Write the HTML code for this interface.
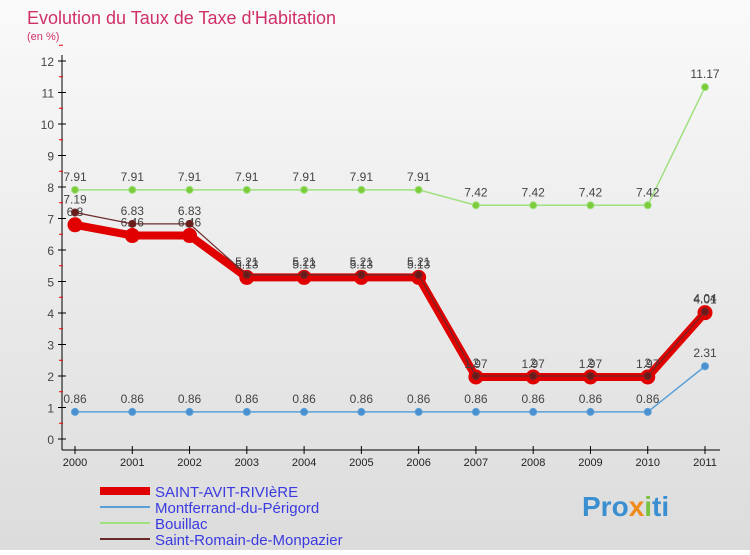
<!DOCTYPE html>
<html><head><meta charset="utf-8"><style>
body{margin:0;width:750px;height:550px;overflow:hidden;font-family:"Liberation Sans",sans-serif}
svg text{font-family:"Liberation Sans",sans-serif}
</style></head><body>
<svg width="750" height="550" xmlns="http://www.w3.org/2000/svg">
<defs><linearGradient id="bg" x1="0" y1="0" x2="0" y2="1"><stop offset="0" stop-color="#fafafa"/><stop offset="1" stop-color="#dcdcdc"/></linearGradient></defs>
<rect width="750" height="550" fill="url(#bg)"/>
<text x="27" y="24" font-size="18" fill="#d0306a">Evolution du Taux de Taxe d'Habitation</text>
<text x="27" y="40" font-size="11" fill="#d0306a">(en %)</text>
<line x1="62" y1="55" x2="62" y2="450" stroke="#000"/>
<line x1="62" y1="450" x2="720" y2="450" stroke="#000"/>
<g id="axes"></g>
<g id="series"></g>
<g id="legend"></g>
<text x="582" y="516" font-size="28" font-weight="bold" fill="#3a8fd0">Pro<tspan fill="#f08a1c">x</tspan><tspan fill="#7cc242">i</tspan>ti</text>
</svg>
<script>
const years=["2000","2001","2002","2003","2004","2005","2006","2007","2008","2009","2010","2011"];
const yTicks=[0,1,2,3,4,5,6,7,8,9,10,11,12];
const saintAvit=[6.8,6.46,6.46,5.13,5.13,5.13,5.13,1.97,1.97,1.97,1.97,4.01];
const montferrand=[0.86,0.86,0.86,0.86,0.86,0.86,0.86,0.86,0.86,0.86,0.86,2.31];
const bouillac=[7.91,7.91,7.91,7.91,7.91,7.91,7.91,7.42,7.42,7.42,7.42,11.17];
const saintRomain=[7.19,6.83,6.83,5.21,5.21,5.21,5.21,2,2,2,2,4.04];
const names=["SAINT-AVIT-RIVIèRE","Montferrand-du-Périgord","Bouillac","Saint-Romain-de-Monpazier"];
const NS="http://www.w3.org/2000/svg";
const X=i=>75+i*(630/11), Y=v=>439-v*31.5;
function mk(t,a,p){const e=document.createElementNS(NS,t);for(const k in a)e.setAttribute(k,a[k]);p.appendChild(e);return e;}
const ax=document.getElementById('axes');
yTicks.forEach(v=>{
 const l=mk('line',{x1:58,x2:66,y1:Y(v),y2:Y(v),stroke:'#000'},ax);
 
 
 const r=mk('line',{x1:59,x2:63,y1:Y(v+0.5),y2:Y(v+0.5),stroke:'#e00'},ax);
 
 
 const t=mk('text',{x:54,y:Y(v)+5,'text-anchor':'end','font-size':12,fill:'#444'},ax);t.textContent=v;
 
 
});
years.forEach((y,i)=>{
 const l=mk('line',{x1:X(i),x2:X(i),y1:446,y2:454,stroke:'#000'},ax);
 
 
 const t=mk('text',{x:X(i),y:466,'text-anchor':'middle','font-size':11,fill:'#222'},ax);t.textContent=y;
 
 
});
const sg=document.getElementById('series');
function series(vals,color,w,r,dot,name){
 const g=mk('g',{},sg);
 
 
 const pl=mk('polyline',{points:vals.map((v,i)=>X(i)+','+Y(v)).join(' '),fill:'none',stroke:color,'stroke-width':w,'stroke-linejoin':'round'},g);
 
 
 vals.forEach((v,i)=>{
  const c=mk('circle',{cx:X(i),cy:Y(v),r:r,fill:dot,stroke:color,'stroke-width':1},g);
  
  
  const t=mk('text',{x:X(i),y:Y(v)-9,'text-anchor':'middle','font-size':12,fill:'#444'},g);t.textContent=String(v);
  
  
 });
}
series(montferrand,'#5aa0d8',1.5,3.5,'#4a90d0','montferrand-series');
series(bouillac,'#9fe07f',1.5,3.5,'#7ccc3a','bouillac-series');
series(saintAvit,'#e00000',8,7,'#e00000','saint-avit-series');
series(saintRomain,'#6b2a2a',1.2,3.5,'#6b1a1a','saint-romain-series');
const lg=document.getElementById('legend');
const lc=['#e00000','#5aa0d8','#9fe07f','#6b2a2a'], lw=[8,2,2,2];
names.forEach((n,i)=>{
 const y=491+i*16;
 const l=mk('line',{x1:100,x2:150,y1:y,y2:y,stroke:lc[i],'stroke-width':lw[i]},lg);
 
 
 const t=mk('text',{x:155,y:y+6,'font-size':15,fill:'#3a3ae0'},lg);t.textContent=n;
 
 
});
</script>
</body></html>
